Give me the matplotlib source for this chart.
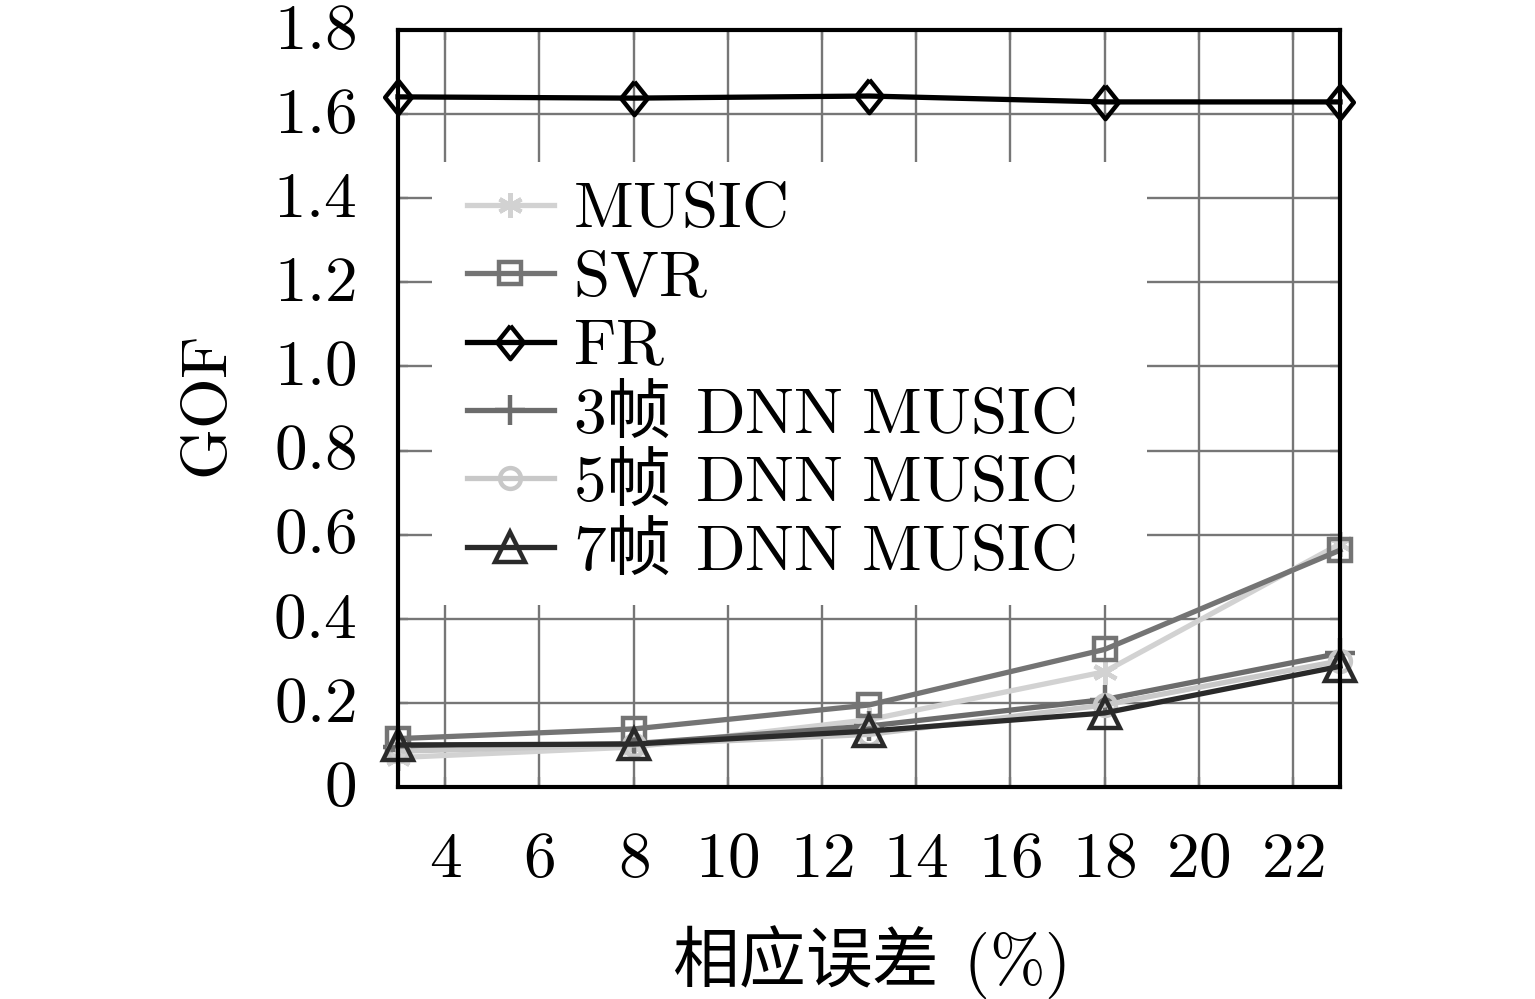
import matplotlib
matplotlib.use("Agg")
import matplotlib.pyplot as plt
from matplotlib.patches import Rectangle
from matplotlib.transforms import ScaledTranslation
import numpy as np

plt.rcParams['font.family'] = ['Noto Sans CJK SC', 'DejaVu Sans']
plt.rcParams['mathtext.fontset'] = 'cm'

x_vals = [3, 8, 13, 18, 23]
music = [0.07, 0.095, 0.16, 0.274, 0.578]
svr = [0.115, 0.138, 0.195, 0.327, 0.563]
fr = [1.641, 1.638, 1.643, 1.629, 1.629]
dnn3 = [0.095, 0.103, 0.145, 0.208, 0.318]
dnn5 = [0.085, 0.100, 0.125, 0.195, 0.300]
dnn7 = [0.100, 0.102, 0.133, 0.176, 0.287]

labels = [r'$\mathrm{MUSIC}$', r'$\mathrm{SVR}$', r'$\mathrm{FR}$',
          r'$3$帧 $\,\mathrm{DNN\ MUSIC}$', r'$5$帧 $\,\mathrm{DNN\ MUSIC}$',
          r'$7$帧 $\,\mathrm{DNN\ MUSIC}$']
xticks = [4, 6, 8, 10, 12, 14, 16, 18, 20, 22]
xtick_labels = ['4', '6', '8', '10', '12', '14', '16', '18', '20', '22']
yticks = [0, 0.2, 0.4, 0.6, 0.8, 1.0, 1.2, 1.4, 1.6, 1.8]
ytick_labels = ['0', '0.2', '0.4', '0.6', '0.8', '1.0', '1.2', '1.4', '1.6', '1.8']

W, H = 1535, 999
fig = plt.figure(figsize=(W / 100, H / 100), dpi=100)
ax = fig.add_axes([398 / W, 1 - 787 / H, (1340 - 398) / W, (787 - 30) / H])

fs = 47
lw = 3.8
mew = 3.2
diamond = [(0, 1), (0.8, 0), (0, -1), (-0.8, 0), (0, 1)]

series = [
    (music, '#d2d2d2', (6, 2, 0), 18),
    (svr, '#747474', 's', 16),
    (fr, '#000000', diamond, 24),
    (dnn3, '#6c6c6c', '+', 22),
    (dnn5, '#c8c8c8', 'o', 15),
    (dnn7, '#2a2a2a', '^', 22),
]
handles = []
for (vals, col, mk, ms), lab in zip(series, labels):
    h, = ax.plot(x_vals, vals, color=col, lw=lw, marker=mk, ms=ms,
                 mfc='none', mec=col, mew=mew, label=lab, clip_on=False, zorder=3)
    handles.append(h)

ax.set_xlim(3, 23)
ax.set_ylim(0, 1.8)
ax.set_xticks(xticks, labels=['$%s$' % t for t in xtick_labels])
ax.set_yticks(yticks, labels=['$%s$' % t for t in ytick_labels])
ax.grid(True, color='#767676', lw=1.7, zorder=1.5)
ax.tick_params(axis='both', which='both', direction='in', length=7, width=1.7,
               color='#767676', labelsize=fs, top=True, right=True)
ax.tick_params(axis='x', pad=28)
ax.tick_params(axis='y', pad=30)
shift = ScaledTranslation(0, 7 / 100, fig.dpi_scale_trans)
for lbl in ax.get_yticklabels():
    lbl.set_transform(lbl.get_transform() + shift)
for sp in ax.spines.values():
    sp.set_linewidth(3.0)
    sp.set_color('black')
    sp.set_zorder(4)

ax.set_xlabel('相应误差 $\\,(\\%)$', fontsize=48, labelpad=22)
ax.set_ylabel(r'$\mathrm{GOF}$', fontsize=fs, labelpad=22)

# white legend background hiding the grid
ax.add_patch(Rectangle((432 / W, 1 - 605 / H), 715 / W, 443 / H,
                       transform=fig.transFigure, facecolor='white',
                       edgecolor='none', zorder=2.5, clip_on=False))

leg = ax.legend(handles=handles, loc='upper left',
                bbox_to_anchor=(467 / W, 1 - 176 / H),
                bbox_transform=fig.transFigure,
                fontsize=fs, frameon=False, handlelength=1.33,
                handletextpad=0.3, labelspacing=0.03, borderpad=0,
                borderaxespad=0)
leg.set_zorder(5)

fig.savefig('out.png', dpi=100)
